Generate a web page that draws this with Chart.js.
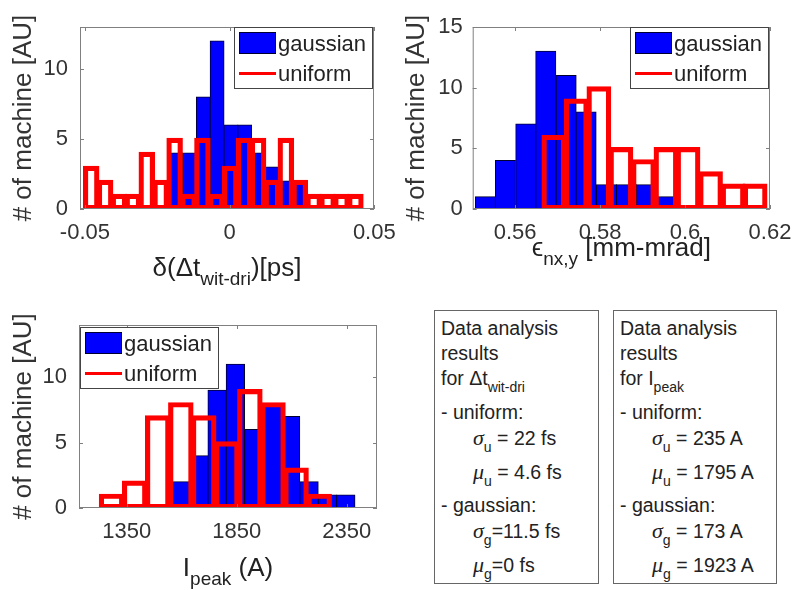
<!DOCTYPE html>
<html>
<head>
<meta charset="utf-8">
<script src="https://cdn.jsdelivr.net/npm/chart.js@4.4.1/dist/chart.umd.min.js"></script>
<style>
  body { margin: 0; background: #fff; }
  #page { position: relative; width: 797px; height: 590px; overflow: hidden; font-family: "Liberation Sans", Arial, sans-serif; color: #222; }
  .cv { position: absolute; }
  .box { position: absolute; top: 310px; height: 274px; border: 1px solid #666; padding: 5px 0 0 6px; box-sizing: border-box; font-size: 19.5px; }
  .ln { height: 25px; line-height: 25px; white-space: nowrap; }
  .ln.s { height: 34px; }
  .ind { padding-left: 32px; }
  .gr { font-family: "Liberation Serif", serif; font-style: italic; font-size: 22px; }
  sub { font-size: 14px; line-height: 0; position: relative; top: 7px; vertical-align: baseline; }
</style>
</head>
<body>
<div id="page">
  <canvas class="cv" id="c1" width="400" height="290" style="left:0;top:0"></canvas>
  <canvas class="cv" id="c2" width="397" height="290" style="left:400px;top:0"></canvas>
  <canvas class="cv" id="c3" width="400" height="300" style="left:0;top:290px"></canvas>

  <div class="box" style="left:434px;width:165px">
    <div class="ln">Data analysis</div>
    <div class="ln">results</div>
    <div class="ln s">for &Delta;t<sub>wit-dri</sub></div>
    <div class="ln">- uniform:</div>
    <div class="ln s ind"><span class="gr">&sigma;</span><sub>u</sub> = 22 fs</div>
    <div class="ln s ind"><span class="gr">&mu;</span><sub>u</sub> = 4.6 fs</div>
    <div class="ln">- gaussian:</div>
    <div class="ln s ind"><span class="gr">&sigma;</span><sub>g</sub>=11.5 fs</div>
    <div class="ln s ind"><span class="gr">&mu;</span><sub>g</sub>=0 fs</div>
  </div>
  <div class="box" style="left:613px;width:164px">
    <div class="ln">Data analysis</div>
    <div class="ln">results</div>
    <div class="ln s">for I<sub>peak</sub></div>
    <div class="ln">- uniform:</div>
    <div class="ln s ind"><span class="gr">&sigma;</span><sub>u</sub> = 235 A</div>
    <div class="ln s ind"><span class="gr">&mu;</span><sub>u</sub> = 1795 A</div>
    <div class="ln">- gaussian:</div>
    <div class="ln s ind"><span class="gr">&sigma;</span><sub>g</sub> = 173 A</div>
    <div class="ln s ind"><span class="gr">&mu;</span><sub>g</sub> = 1923 A</div>
  </div>
</div>

<script>
const seriesNames = ["gaussian", "uniform"];
const yTitle = "# of machine [AU]";

// plot 1: timing jitter delta(dt wit-dri) [ps]
const t1GaussCenters = [-0.01861, -0.01385, -0.00909, -0.00432, 0.00044, 0.00520, 0.00997, 0.01473, 0.01949, 0.02426];
const t1GaussCounts = [4, 4, 8, 12, 6, 6, 4, 3, 2, 2];
const t1UniCenters = [-0.04784, -0.04303, -0.03823, -0.03342, -0.02862, -0.02381, -0.01900, -0.01420, -0.00939, -0.00459,
  0.00022, 0.00502, 0.00983, 0.01463, 0.01944, 0.02425, 0.02905, 0.03386, 0.03866, 0.04347];
const t1UniCounts = [3, 2, 1, 1, 4, 2, 5, 1, 5, 1, 3, 5, 5, 2, 5, 2, 1, 1, 1, 1];
const t1XTicks = [-0.05, 0, 0.05];
const t1XLabels = ["-0.05", "0", "0.05"];
const t1YTicks = [0, 5, 10];

// plot 2: emittance [mm-mrad]
const e2GaussCenters = [0.5530, 0.5577, 0.5625, 0.5672, 0.5720, 0.5767, 0.5815, 0.5862, 0.5909, 0.5957];
const e2GaussCounts = [1, 4, 7, 13, 11, 8, 2, 2, 2, 1];
const e2UniCenters = [0.5691, 0.5744, 0.5797, 0.5849, 0.5902, 0.5955, 0.6007, 0.6060, 0.6113, 0.6165];
const e2UniCounts = [6, 9, 10, 5, 4, 5, 5, 3, 2, 2];
const e2XTicks = [0.56, 0.58, 0.6, 0.62];
const e2XLabels = ["0.56", "0.58", "0.6", "0.62"];
const e2YTicks = [0, 5, 10, 15];

// plot 3: peak current [A]
const i3GaussCenters = [1593, 1677, 1761, 1844, 1928, 2012, 2095, 2179, 2263, 2346];
const i3GaussCounts = [2, 4, 9, 11, 6, 8, 7, 2, 1, 1];
const i3UniCenters = [1281, 1386, 1491, 1596, 1700, 1805, 1910, 2015, 2120, 2225];
const i3UniCounts = [1, 2, 7, 8, 7, 5, 9, 8, 3, 1];
const i3XTicks = [1350, 1850, 2350];
const i3XLabels = ["1350", "1850", "2350"];
const i3YTicks = [0, 5, 10];

Chart.defaults.font.family = '"Liberation Sans", Arial, sans-serif';
Chart.defaults.color = "#333";

// box, inward ticks, legend and x title with subscript
const histDecor = {
  id: "histDecor",
  afterDraw(chart, args, o) {
    const { ctx, chartArea: a, scales } = chart;
    ctx.save();
    ctx.strokeStyle = "#808080";
    ctx.lineWidth = 1;
    ctx.beginPath();
    scales.x.ticks.forEach(t => {
      const px = Math.round(scales.x.getPixelForValue(t.value)) + 0.5;
      ctx.moveTo(px, a.bottom); ctx.lineTo(px, a.bottom - 4);
      ctx.moveTo(px, a.top); ctx.lineTo(px, a.top + 4);
    });
    scales.y.ticks.forEach(t => {
      const py = Math.round(scales.y.getPixelForValue(t.value)) + 0.5;
      ctx.moveTo(a.left, py); ctx.lineTo(a.left + 4, py);
      ctx.moveTo(a.right, py); ctx.lineTo(a.right - 4, py);
    });
    ctx.stroke();
    ctx.strokeRect(a.left + 0.5, a.top + 0.5, a.width - 1, a.height - 1);

    // legend
    const lw = 139, lh = 62;
    const lx = o.legendSide === "left" ? a.left + 1 : a.right - 1 - lw;
    const ly = a.top + o.legendTop;
    ctx.fillStyle = "#fff";
    ctx.fillRect(lx, ly, lw, lh);
    ctx.strokeStyle = "#444";
    ctx.strokeRect(lx + 0.5, ly + 0.5, lw - 1, lh - 1);
    ctx.fillStyle = "#0000ff";
    ctx.fillRect(lx + 5, ly + 5, 37, 22);
    ctx.strokeStyle = "#000030";
    ctx.strokeRect(lx + 5.5, ly + 5.5, 36, 21);
    ctx.strokeStyle = "#ff0000";
    ctx.lineWidth = 3;
    ctx.beginPath();
    ctx.moveTo(lx + 5, ly + 46.5); ctx.lineTo(lx + 42, ly + 46.5);
    ctx.stroke();
    ctx.fillStyle = "#222";
    ctx.font = '22px "Liberation Sans", Arial, sans-serif';
    ctx.textBaseline = "middle";
    ctx.textAlign = "left";
    ctx.fillText(seriesNames[0], lx + 44, ly + 18);
    ctx.fillText(seriesNames[1], lx + 44, ly + 48);

    // x title
    const mainF = '26px "Liberation Sans", Arial, sans-serif';
    const subF = '19px "Liberation Sans", Arial, sans-serif';
    ctx.textBaseline = "alphabetic";
    let total = 0;
    o.xTitle.forEach(p => { ctx.font = p.sub ? subF : mainF; total += ctx.measureText(p.t).width; });
    let x = (a.left + a.right) / 2 - total / 2;
    o.xTitle.forEach(p => {
      ctx.font = p.sub ? subF : mainF;
      ctx.fillText(p.t, x, o.xTitleY + (p.sub ? 9 : 0));
      x += ctx.measureText(p.t).width;
    });
    ctx.restore();
  }
};

function toXY(xs, ys) {
  return xs.map((v, i) => ({ x: v, y: ys[i] }));
}

function histChart(id, o) {
  return new Chart(document.getElementById(id), {
    type: "bar",
    data: {
      datasets: [
        {
          label: seriesNames[0], data: toXY(o.gx, o.gy), xAxisID: "x", order: 2, grouped: false,
          backgroundColor: "#0000ff", borderColor: "#000030", borderWidth: 1, inflateAmount: 0.5,
          borderSkipped: false, barPercentage: 1, categoryPercentage: 1
        },
        {
          label: seriesNames[1], data: toXY(o.ux, o.uy), xAxisID: "xu", order: 1, grouped: false,
          backgroundColor: "rgba(0,0,0,0)", borderColor: "#ff0000", borderWidth: 2.6, inflateAmount: 1.3,
          borderSkipped: false, barPercentage: 1, categoryPercentage: 1
        }
      ]
    },
    options: {
      responsive: false,
      animation: false,
      layout: { padding: o.pad },
      plugins: {
        legend: { display: false },
        tooltip: { enabled: false },
        histDecor: { legendSide: o.legendSide, legendTop: o.legendTop, xTitle: o.xTitle, xTitleY: o.xTitleY }
      },
      scales: {
        x: {
          type: "linear", axis: "x", position: "bottom", min: o.xmin, max: o.xmax, offset: false,
          grid: { display: false, drawTicks: false }, border: { display: false },
          ticks: { font: { size: 22 }, padding: 11, maxRotation: 0, autoSkip: false,
            callback: (v, i) => o.xl[i] },
          afterBuildTicks: s => { s.ticks = o.xt.map(v => ({ value: v })); },
          afterFit: s => { s.height = o.xh; s.paddingLeft = 0; s.paddingRight = 0; }
        },
        xu: {
          type: "linear", axis: "x", display: false, min: o.xmin, max: o.xmax, offset: false,
          afterBuildTicks: s => { s.ticks = [{ value: o.xmin }, { value: o.xmax }]; }
        },
        y: {
          type: "linear", min: 0, max: o.ymax,
          grid: { display: false, drawTicks: false }, border: { display: false },
          ticks: { font: { size: 22 }, padding: o.ytp },
          title: { display: true, text: yTitle, font: { size: 26 }, padding: { top: o.ytitlePad, bottom: 0 } },
          afterBuildTicks: s => { s.ticks = o.yt.map(v => ({ value: v })); },
          afterFit: s => { s.width = o.yw; s.paddingTop = 0; s.paddingBottom = 0; }
        }
      }
    },
    plugins: [histDecor]
  });
}

histChart("c1", {
  gx: t1GaussCenters, gy: t1GaussCounts, ux: t1UniCenters, uy: t1UniCounts,
  xt: t1XTicks, xl: t1XLabels, yt: t1YTicks, xmin: -0.0517, xmax: 0.0499, ymax: 13,
  pad: { left: 0, right: 26, top: 27, bottom: 0 }, yw: 80, xh: 81, ytp: 12, ytitlePad: 8,
  legendSide: "right", legendTop: 0, xTitleY: 276,
  xTitle: [{ t: "\u03b4(\u0394t" }, { t: "wit-dri", sub: true }, { t: ")[ps]" }]
});

histChart("c2", {
  gx: e2GaussCenters, gy: e2GaussCounts, ux: e2UniCenters, uy: e2UniCounts,
  xt: e2XTicks, xl: e2XLabels, yt: e2YTicks, xmin: 0.55, xmax: 0.62, ymax: 15,
  pad: { left: 0, right: 27, top: 27, bottom: 0 }, yw: 72.7, xh: 81, ytp: 10, ytitlePad: 1.5,
  legendSide: "right", legendTop: 0, xTitleY: 256,
  xTitle: [{ t: "\u03f5" }, { t: "nx,y", sub: true }, { t: " [mm-mrad]" }]
});

histChart("c3", {
  gx: i3GaussCenters, gy: i3GaussCounts, ux: i3UniCenters, uy: i3UniCounts,
  xt: i3XTicks, xl: i3XLabels, yt: i3YTicks, xmin: 1133, xmax: 2488, ymax: 14,
  pad: { left: 0, right: 23, top: 35, bottom: 0 }, yw: 79, xh: 82, ytp: 12, ytitlePad: 8,
  legendSide: "left", legendTop: 2, xTitleY: 286,
  xTitle: [{ t: "I" }, { t: "peak", sub: true }, { t: " (A)" }]
});
</script>
</body>
</html>
